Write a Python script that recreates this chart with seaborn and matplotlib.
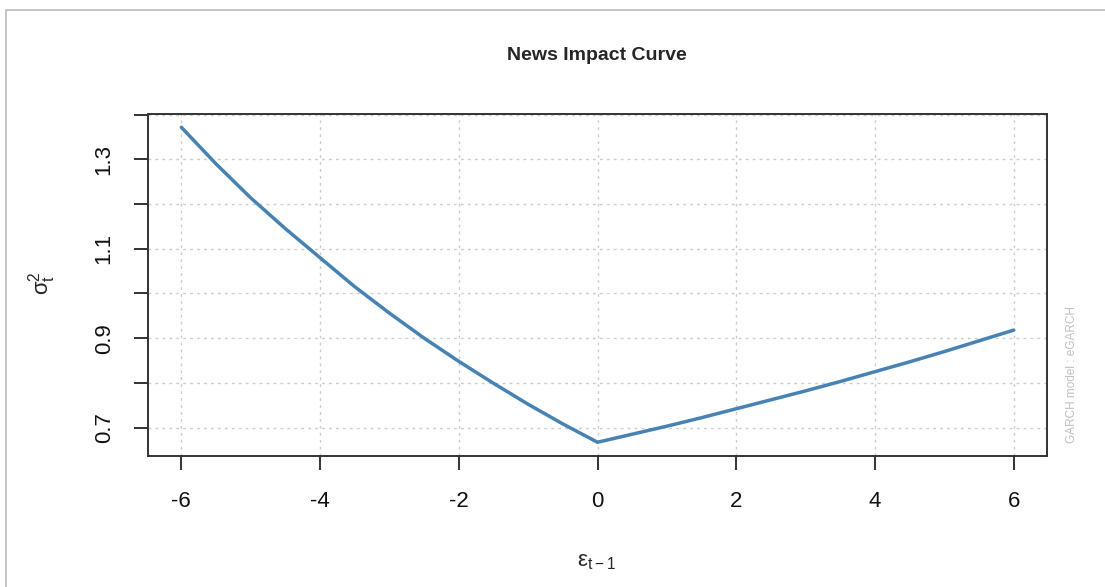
import matplotlib
matplotlib.use("Agg")
import matplotlib.pyplot as plt
import seaborn as sns
import pandas as pd
from matplotlib.patches import Rectangle

# Data (news impact curve, eGARCH)
eps = [-6, -5.5, -5, -4.5, -4, -3.5, -3, -2.5, -2, -1.5, -1, -0.5, 0,
       0.5, 1, 1.5, 2, 2.5, 3, 3.5, 4, 4.5, 5, 5.5, 6]
sigma2 = [1.372, 1.290, 1.214, 1.145, 1.080, 1.015, 0.956, 0.900, 0.848,
          0.799, 0.752, 0.708, 0.667,
          0.685, 0.703, 0.722, 0.742, 0.762, 0.782, 0.803, 0.825, 0.847,
          0.870, 0.894, 0.918]
x_ticks = [-6, -4, -2, 0, 2, 4, 6]
y_ticks = [0.7, 0.8, 0.9, 1.0, 1.1, 1.2, 1.3, 1.4]
y_labels = ["0.7", "", "0.9", "", "1.1", "", "1.3", ""]

sns.set_style("white")
plt.rcParams['font.family'] = ['Liberation Sans', 'DejaVu Sans']
plt.rcParams['mathtext.default'] = 'regular'

df = pd.DataFrame({"eps": eps, "sigma2": sigma2})

fig = plt.figure(figsize=(11.05, 5.87), dpi=100)
ax = fig.add_axes([0.134, 0.223, 0.9475 - 0.134, 0.806 - 0.223])

sns.lineplot(data=df, x="eps", y="sigma2", ax=ax, color="#4682B4", linewidth=2.5)

ax.set_xlim(-6.48, 6.48)
ax.set_ylim(0.636, 1.402)
ax.set_xticks(x_ticks)
ax.set_xticklabels([str(v) for v in x_ticks], fontsize=16)
ax.set_yticks(y_ticks)
ax.set_yticklabels(y_labels, fontsize=16, rotation=90, va="center")

ax.grid(True, color="#cccccc", linestyle=(0, (2, 3)), linewidth=1.0)
for s in ax.spines.values():
    s.set_color("#333333")
    s.set_linewidth(1.4)
ax.tick_params(axis="both", direction="out", length=10, width=1.4, color="#333333",
               labelcolor="#111111", bottom=True, left=True, top=False, right=False)
ax.tick_params(axis="x", pad=15)
ax.tick_params(axis="y", pad=14)

ax.set_xlabel("")
ax.set_ylabel("")
fig.text(597 / 1105, 1 - 562 / 587, r"$\epsilon_{t-1}$", fontsize=16,
         ha="center", va="center")
fig.text(42 / 1105, 1 - 283 / 587, r"$\sigma_t^2$", fontsize=16, rotation=90,
         ha="center", va="center")
fig.text(597 / 1105, 1 - 55 / 587, "News Impact Curve", fontsize=14,
         fontweight="bold", ha="center", va="center")

fig.text(1072 / 1105, 1 - 375 / 587, "GARCH model : eGARCH", rotation=90, fontsize=8.5,
         color="#c0c0c0", ha="center", va="center")

fig.patches.append(Rectangle((0.005, -0.01), 1.2, 0.993, transform=fig.transFigure,
                             fill=False, edgecolor="#bbbbbb", linewidth=1.2))

fig.savefig("out.png", dpi=100)
